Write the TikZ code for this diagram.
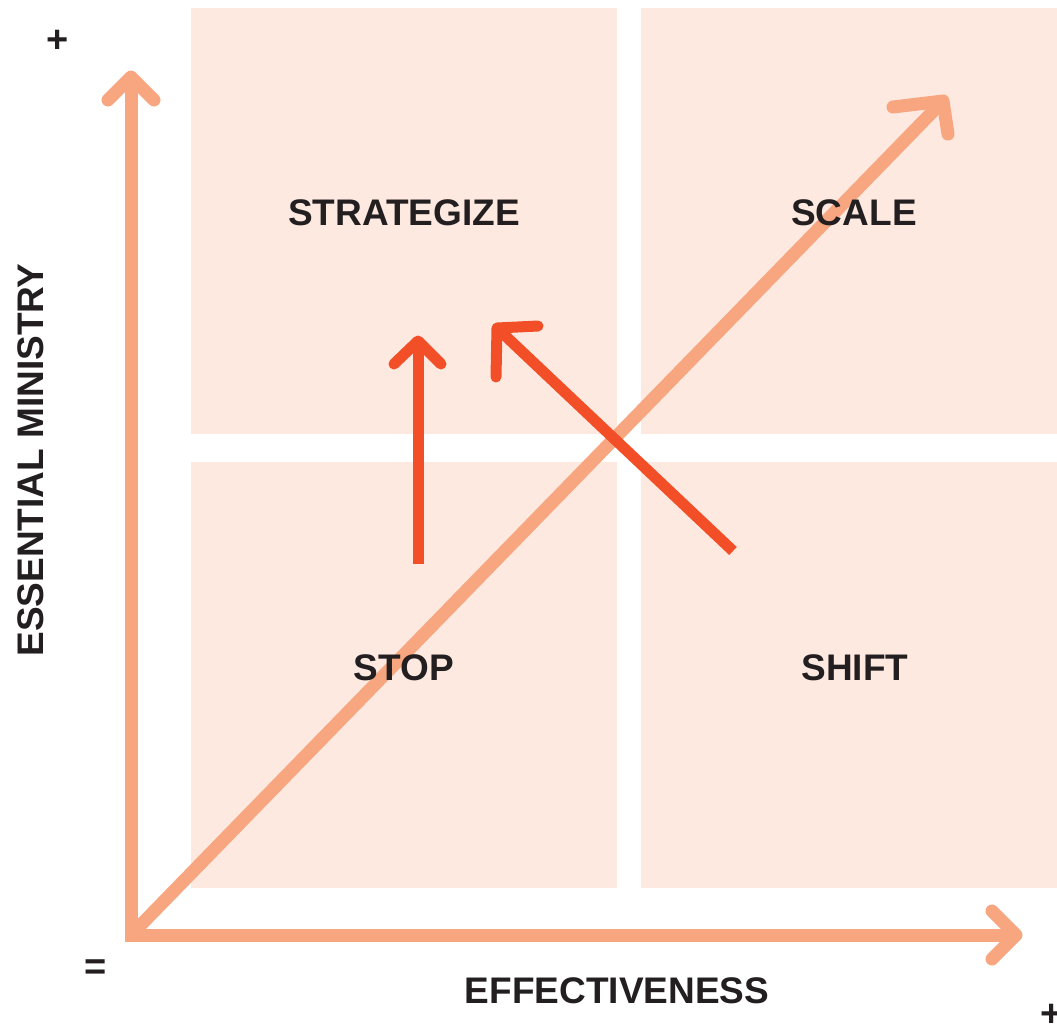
\documentclass[tikz,border=0pt]{standalone}
\usepackage{fontspec}
\setmainfont{Liberation Sans}
\definecolor{quad}{HTML}{FDE9E0}
\definecolor{axis}{HTML}{F7A680}
\definecolor{redar}{HTML}{F24E27}
\definecolor{ink}{HTML}{231F20}
\begin{document}
\begin{tikzpicture}[x=1pt,y=-1pt,
  quadbox/.style={fill=quad,draw=none},
  lbl/.style={font=\bfseries\fontsize{37}{40}\selectfont,text=ink,inner sep=0pt},
  axlbl/.style={font=\bfseries\fontsize{37}{40}\selectfont,text=ink,inner sep=0pt},
  sgn/.style={font=\bfseries\fontsize{38}{40}\selectfont,text=ink,inner sep=0pt},
  axisline/.style={draw=axis,line width=13pt,line join=miter},
  axishead/.style={draw=axis,line width=13pt,line cap=round,line join=round},
  redline/.style={draw=redar,line width=11pt},
  redhead/.style={draw=redar,line width=11pt,line cap=round,line join=round}]
\useasboundingbox (0,0) rectangle (1057,1029);
\fill[white] (0,0) rectangle (1057,1029);
% quadrants
\fill[quadbox] (191,8) rectangle (617,434);
\fill[quadbox] (641,8) rectangle (1057,434);
\fill[quadbox] (191,462) rectangle (617,888);
\fill[quadbox] (641,462) rectangle (1057,888);
% coordinates
\coordinate (O) at (131,935);
\coordinate (Ytip) at (131,77);
\coordinate (Xtip) at (1016,935);
\coordinate (Dtip) at (943,101);
% diagonal
\draw[axisline] (O) -- (Dtip);
\draw[axishead] (893,107) -- (Dtip) -- (948,134);
% axes
\draw[axisline] (Ytip) -- (O) -- (Xtip);
\draw[axishead] (108,100) -- (Ytip) -- (154,100);
\draw[axishead] (992,911) -- (Xtip) -- (992,959);
% labels
\node[lbl] (strat) at (404,213) {STRATEGIZE};
\node[lbl] (scale) at (854,213) {SCALE};
\node[lbl] (stop) at (404,668) {STOP};
\node[lbl] (shift) at (855,668) {SHIFT};
\node[axlbl] (eff) at (617,991) {EFFECTIVENESS};
\node[axlbl,rotate=90] (ess) at (31,460) {ESSENTIAL MINISTRY};
\node[sgn] (plusy) at (58,41) {+};
\node[sgn] (eq) at (96,970) {=};
\node[sgn] (plusx) at (1052,1015) {+};
% red arrows
\coordinate (R1s) at (418,564);
\coordinate (R1t) at (418,341);
\draw[redline] (R1s) -- (R1t);
\draw[redhead] (394,364) -- (R1t) -- (441,364);
\coordinate (R2s) at (733,551);
\coordinate (R2t) at (497,328);
\draw[redline] (R2s) -- (R2t);
\draw[redhead] (538,326) -- (R2t) -- (496,377);
\end{tikzpicture}
\end{document}
